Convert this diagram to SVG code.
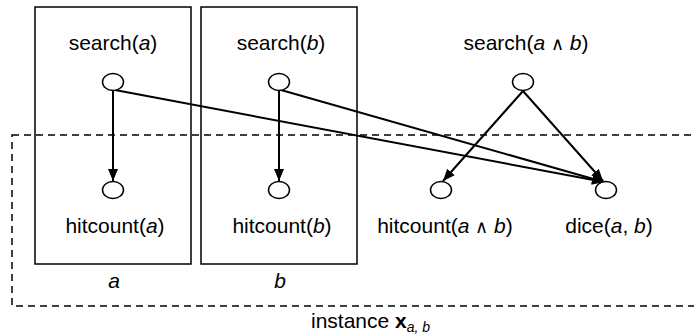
<svg xmlns="http://www.w3.org/2000/svg" width="694" height="336" viewBox="0 0 694 336">
<defs>
<style>
text{font-family:"Liberation Sans",Arial,sans-serif;font-size:21px;fill:#000}
.c{text-anchor:middle}
.i{font-style:italic}
.and{font-family:"DejaVu Sans","Liberation Sans",sans-serif;font-weight:200;font-size:18px}
.node{fill:#fff;stroke:#000;stroke-width:1.5}
.box{fill:none;stroke:#000;stroke-width:1.5}
.edge{stroke:#000;stroke-width:2;fill:none;marker-end:url(#ah)}
</style>
<marker id="ah" markerUnits="userSpaceOnUse" markerWidth="14" markerHeight="12" refX="12" refY="5" orient="auto">
<path d="M0,0 L12,5 L0,10 Z" fill="#000"/>
</marker>
</defs>
<rect width="694" height="336" fill="#fff"/>
<g id="instance">
<rect x="12" y="135" width="700" height="171" fill="none" stroke="#000" stroke-width="1.5" stroke-dasharray="7,5"/>
<text x="311" y="328">instance <tspan font-weight="bold">x</tspan><tspan class="i" font-size="14" dy="4">a, b</tspan></text>
</g>
<g id="plate-a">
<rect class="box" x="35" y="7" width="156" height="257"/>
<text class="c i" x="114" y="288">a</text>
</g>
<g id="plate-b">
<rect class="box" x="201" y="7" width="156" height="257"/>
<text class="c i" x="280" y="288">b</text>
</g>
<g id="connectors">
<line class="edge" x1="113" y1="91" x2="113" y2="181"/>
<line class="edge" x1="279" y1="91" x2="279" y2="181"/>
<line class="edge" x1="115" y1="90" x2="604" y2="182"/>
<line class="edge" x1="281" y1="90" x2="604" y2="182"/>
<line class="edge" x1="523" y1="91" x2="443" y2="181"/>
<line class="edge" x1="523" y1="91" x2="603" y2="181"/>
</g>
<g id="search-a">
<ellipse class="node" cx="113" cy="82" rx="10.5" ry="8.5"/>
<text class="c" x="113" y="50">search(<tspan class="i">a</tspan>)</text>
</g>
<g id="search-b">
<ellipse class="node" cx="279" cy="82" rx="10.5" ry="8.5"/>
<text class="c" x="281" y="50">search(<tspan class="i">b</tspan>)</text>
</g>
<g id="search-ab">
<ellipse class="node" cx="523" cy="82" rx="10.5" ry="8.5"/>
<text class="c" x="526" y="50">search(<tspan class="i">a</tspan> <tspan class="and">∧</tspan> <tspan class="i">b</tspan>)</text>
</g>
<g id="hitcount-a">
<ellipse class="node" cx="113" cy="190" rx="10.5" ry="8.5"/>
<text class="c" x="115" y="233">hitcount(<tspan class="i">a</tspan>)</text>
</g>
<g id="hitcount-b">
<ellipse class="node" cx="279" cy="190" rx="10.5" ry="8.5"/>
<text class="c" x="282" y="233">hitcount(<tspan class="i">b</tspan>)</text>
</g>
<g id="hitcount-ab">
<ellipse class="node" cx="441" cy="190" rx="10.5" ry="8.5"/>
<text class="c" x="445" y="233">hitcount(<tspan class="i">a</tspan> <tspan class="and">∧</tspan> <tspan class="i">b</tspan>)</text>
</g>
<g id="dice">
<ellipse class="node" cx="606" cy="190" rx="10.5" ry="8.5"/>
<text class="c" x="609" y="233">dice(<tspan class="i">a</tspan>, <tspan class="i">b</tspan>)</text>
</g>
</svg>
